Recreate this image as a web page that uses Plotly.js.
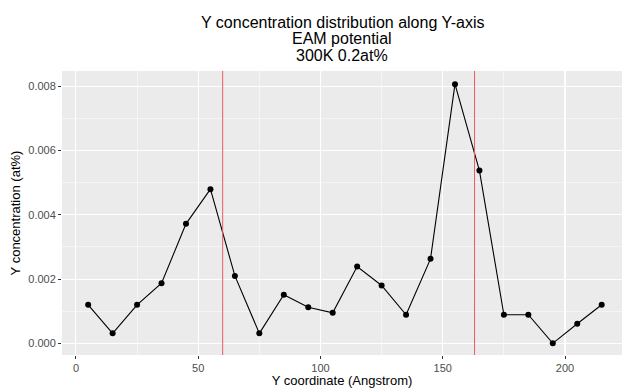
<!DOCTYPE html>
<html>
<head>
<meta charset="utf-8">
<script src="https://cdn.plot.ly/plotly-3.0.1.min.js"></script>
<style>html,body{margin:0;padding:0;background:#fff;}#chart{width:622px;height:388px;}</style>
</head>
<body>
<div id="chart"></div>
<script>
var yCoord = [5, 15, 25, 35, 45, 55, 65, 75, 85, 95, 105, 115, 125, 135, 145, 155, 165, 175, 185, 195, 205, 215];
var concentration = [0.0012, 0.00031, 0.0012, 0.00187, 0.00372, 0.0048, 0.0021, 0.00031, 0.00151, 0.00112, 0.00095, 0.00239, 0.0018, 0.00089, 0.00263, 0.00807, 0.00538, 0.00089, 0.00089, 0.0, 0.00061, 0.0012];
var boundaries = [60, 163];
var xTickVals = [0, 50, 100, 150, 200];
var yTickVals = [0, 0.002, 0.004, 0.006, 0.008];
var yTickText = ['0.000', '0.002', '0.004', '0.006', '0.008'];
var titleLines = ['Y concentration distribution along Y-axis', 'EAM potential', '300K 0.2at%'];

var H = 388, T = 71, B = 33;
var plotH = H - T - B;
var titleCenters = [22, 39, 56];

var shapes = boundaries.map(function (b) {
  return {type: 'line', xref: 'x', yref: 'paper', x0: b, x1: b, y0: 0, y1: 1,
          line: {color: '#ec5a60', width: 1}, layer: 'above'};
});

var annotations = titleLines.map(function (t, i) {
  return {text: t, xref: 'paper', yref: 'paper', x: 0.5, xanchor: 'center',
          y: 1 + (T - titleCenters[i]) / plotH, yanchor: 'middle',
          showarrow: false, font: {size: 16, color: '#000000'}};
});

var trace = {
  x: yCoord, y: concentration, type: 'scatter', mode: 'lines+markers',
  line: {color: '#000000', width: 1.1},
  marker: {color: '#000000', size: 6},
  hoverinfo: 'skip'
};

var layout = {
  width: 622, height: H,
  margin: {l: 62, r: 0, t: T, b: B},
  paper_bgcolor: '#ffffff',
  plot_bgcolor: '#ebebeb',
  showlegend: false,
  font: {family: 'Liberation Sans, Arial, sans-serif'},
  xaxis: {
    range: [-5.7, 223.3],
    tickvals: xTickVals,
    ticks: 'outside', ticklen: 3, tickcolor: '#333333', tickwidth: 1,
    tickfont: {size: 11, color: '#4d4d4d'},
    showgrid: true, gridcolor: '#ffffff', gridwidth: 1.1,
    minor: {dtick: 25, tick0: 25, showgrid: true, gridcolor: '#ffffff', gridwidth: 0.5, ticks: ''},
    zeroline: false, showline: false,
    title: {text: 'Y coordinate (Angstrom)', font: {size: 13, color: '#000000'}, standoff: 2}
  },
  yaxis: {
    range: [-0.000364, 0.00848],
    tickvals: yTickVals, ticktext: yTickText,
    ticks: 'outside', ticklen: 3, tickcolor: '#333333', tickwidth: 1,
    tickfont: {size: 11, color: '#4d4d4d'},
    showgrid: true, gridcolor: '#ffffff', gridwidth: 1.1,
    minor: {dtick: 0.002, tick0: 0.001, showgrid: true, gridcolor: '#ffffff', gridwidth: 0.5, ticks: ''},
    zeroline: false, showline: false,
    title: {text: 'Y concentration (at%)', font: {size: 13, color: '#000000'}, standoff: 4}
  },
  shapes: shapes,
  annotations: annotations
};

Plotly.newPlot('chart', [trace], layout, {displayModeBar: false, staticPlot: true});
</script>
</body>
</html>
